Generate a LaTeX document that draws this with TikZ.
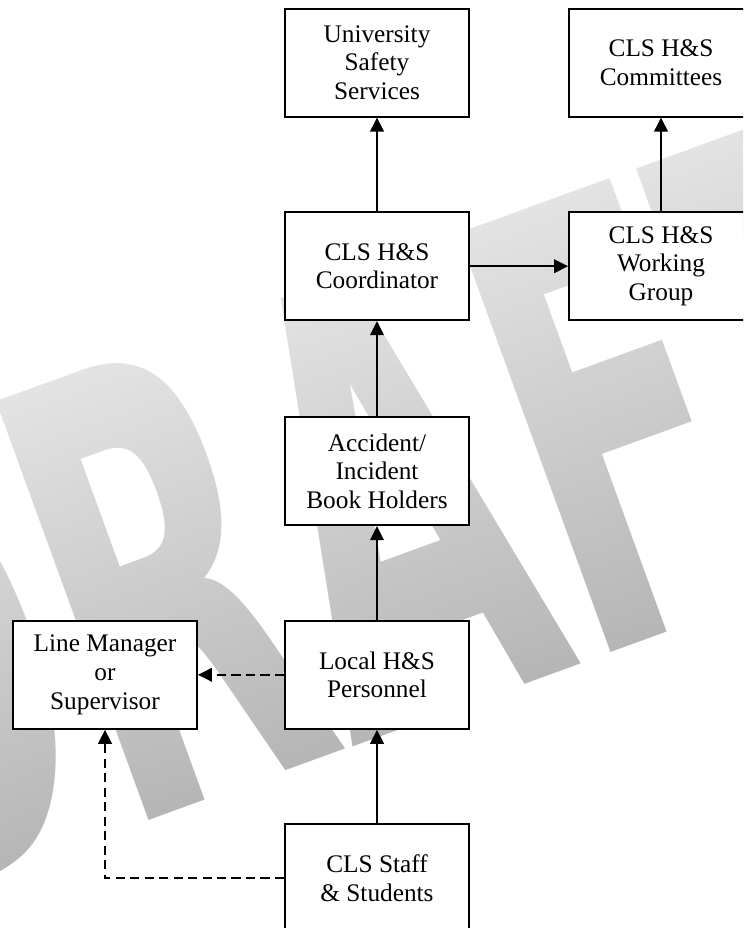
\documentclass[tikz,border=0pt]{standalone}
\usepackage{fontspec}
\setmainfont{Liberation Serif}
\newfontfamily\draftfont{DejaVu Sans}
\usetikzlibrary{positioning,arrows.meta,fadings}

% letters of the watermark, used as a mask for a shading
% (the mask is centred on the origin of the picture)
\begin{tikzfadingfrompicture}[name=draftmask]
  \useasboundingbox (-30,-30) rectangle (30,30);
  \node[rotate=20,xscale=0.52,anchor=base west,inner sep=0pt,text=transparent!0,
    font=\draftfont\bfseries\fontsize{435}{435}\selectfont] (draft) at (-3.16,-23.03) {DRAFT};
\end{tikzfadingfrompicture}

\begin{document}
\begin{tikzpicture}[>={Triangle[length=0.35cm,width=0.34cm]},line width=1.35pt,
    node distance=5.09cm,on grid,
    box/.style={draw,fill=white,align=center,minimum width=4.6cm,minimum height=2.7cm,
      inner sep=2pt,font=\fontsize{18}{20.4}\selectfont},
    dash line/.style={dash pattern=on 6.5pt off 3.8pt}]
   \useasboundingbox (0,0) rectangle (18.575,-23.2);
   \clip (0,0) rectangle (18.575,-23.2);
   % watermark behind the chart
   \shade[path fading=draftmask,fit fading=false,bottom color=black!37,top color=white,
     shading angle=20] (-2.3125,0) rectangle (20.8875,-23.2);
   \node[box] (staff) at (9.425,-21.96) {CLS Staff\\ \& Students};
   \node[box] (local) [above=of staff] {Local H\&S\\ Personnel};
   \node[box] (book) [above=of local] {Accident/\\ Incident\\ Book Holders};
   \node[box] (coord) [above=5.125cm of book] {CLS H\&S\\ Coordinator};
   \node[box] (uss) [above=of coord] {University\\ Safety\\ Services};
   \node[box] (wg) [right=7.1cm of coord] {CLS H\&S\\ Working\\ Group};
   \node[box] (cttee) [above=of wg] {CLS H\&S\\ Committees};
   \node[box] (lm) [left=6.8cm of local] {Line Manager\\ or\\ Supervisor};
    \path[->]
    (staff) edge (local)
    (local) edge (book)
    (book)  edge (coord)
    (coord) edge (uss)
            edge (wg)
    (wg)    edge (cttee);
    % dashed reporting lines
    \draw[->,dash line] (local) -- (lm);
    \draw[->,dash line] (staff.west) -| (lm.south);
\end{tikzpicture}
\end{document}
